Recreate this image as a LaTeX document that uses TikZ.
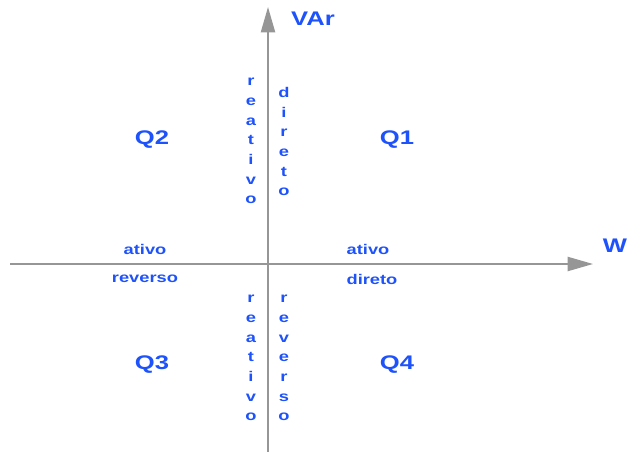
\documentclass[tikz,border=0pt]{standalone}
\usepackage{fontspec}
\setmainfont{Liberation Sans}
\usetikzlibrary{arrows.meta, positioning}
\definecolor{qblue}{RGB}{30,82,250}
\definecolor{axisgray}{RGB}{150,150,150}

\begin{document}
\begin{tikzpicture}[x=0.025cm, y=-0.025cm,
    axis/.style={axisgray, line width=1.4pt, -{Triangle[length=18pt, width=10pt]}},
    biglbl/.style={qblue, font=\bfseries\fontsize{14}{16}\selectfont, xscale=1.3, inner sep=0pt},
    smalllbl/.style={qblue, font=\bfseries\fontsize{10}{12}\selectfont, xscale=1.3, inner sep=0pt},
    stacklbl/.style={qblue, font=\bfseries\fontsize{10}{14}\selectfont, align=center, xscale=1.3, inner sep=0pt}]
  \useasboundingbox (0,0) rectangle (629,452);
  % Axes
  \coordinate (wleft) at (10,264);
  \coordinate (wright) at (593,264);
  \coordinate (vbottom) at (268,452);
  \coordinate (vtop) at (268,7);
  \draw[axis] (wleft) -- (wright);
  \draw[axis] (vbottom) -- (vtop);
  \node[biglbl] (w) at (615,246) {W};
  \node[biglbl] (var) at (313,19) {VAr};
  % Quadrants
  \node[biglbl] (q1) at (397,140) {Q1};
  \node[biglbl] (q2) at (152,140) {Q2};
  \node[biglbl] (q3) at (152,365) {Q3};
  \node[biglbl] (q4) at (397,365) {Q4};
  % Labels along W
  \node[smalllbl] (ativoL) at (145,249) {ativo};
  \node[smalllbl] (reversoL) at (145,279) {reverso};
  \node[smalllbl] (ativoR) at (368,249) {ativo};
  \node[smalllbl] (diretoR) at (372,279) {direto};
  % Labels along VAr
  \node[stacklbl, anchor=north] (reativoU) at (251,78) {r\\e\\a\\t\\i\\v\\o};
  \node[stacklbl, anchor=north] (diretoU) at (284,87) {d\\i\\r\\e\\t\\o};
  \node[stacklbl, anchor=north] (reativoD) at (251,295) {r\\e\\a\\t\\i\\v\\o};
  \node[stacklbl, anchor=north] (reversoD) at (284,295) {r\\e\\v\\e\\r\\s\\o};
\end{tikzpicture}
\end{document}
